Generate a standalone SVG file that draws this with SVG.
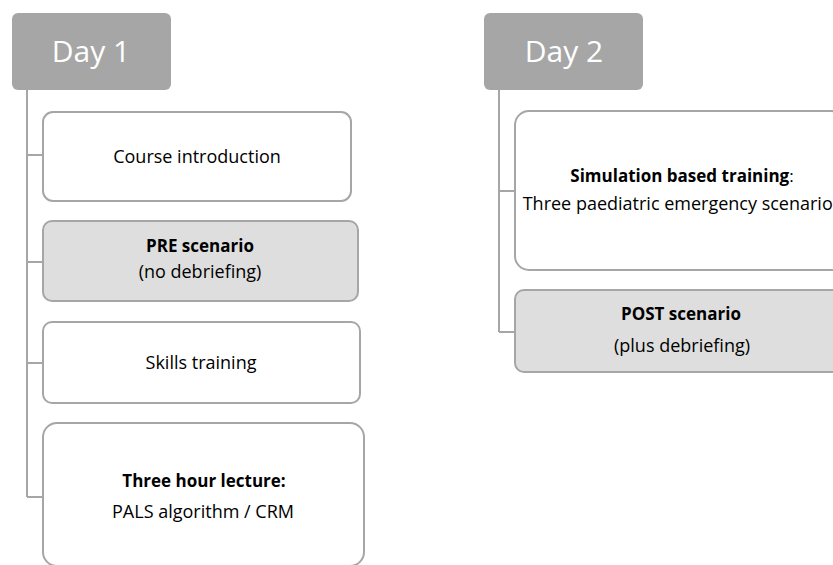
<svg xmlns="http://www.w3.org/2000/svg" width="833" height="565" viewBox="0 0 833 565">
  <style>
    .hdr { fill: #a6a6a6; }
    .box { fill: #ffffff; stroke: #a6a6a6; stroke-width: 2; }
    .box.grey { fill: #dedede; }
    .conn { fill: none; stroke: #a6a6a6; stroke-width: 2; }
    text { font-family: "Open Sans", "Liberation Sans", sans-serif; text-anchor: middle; fill: #000000; }
    .htxt { fill: #ffffff; font-size: 30px; }
    .t { font-size: 18px; }
    .b { font-weight: bold; font-size: 17px; }
  </style>
  <rect width="833" height="565" fill="#ffffff"/>

  <g id="connectors">
    <path class="conn" d="M27,90 V497 M27,155 H43 M27,262 H43 M27,363 H43 M27,497 H43"/>
    <path class="conn" d="M499,90 V332 M499,191 H515 M499,332 H515"/>
  </g>

  <g id="day1">
    <rect class="hdr" x="12" y="13" width="159" height="77" rx="6"/>
    <text class="htxt" x="91" y="62">Day 1</text>
  </g>

  <g id="course-intro">
    <rect class="box" x="43" y="112" width="308" height="89" rx="10"/>
    <text class="t" x="197" y="163">Course introduction</text>
  </g>

  <g id="pre-scenario">
    <rect class="box grey" x="43" y="221" width="315" height="80" rx="9"/>
    <text class="t b" x="200" y="252">PRE scenario</text>
    <text class="t" x="200" y="278">(no debriefing)</text>
  </g>

  <g id="skills">
    <rect class="box" x="43" y="322" width="317" height="81" rx="9"/>
    <text class="t" x="201" y="369">Skills training</text>
  </g>

  <g id="lecture">
    <rect class="box" x="43" y="423" width="321" height="143" rx="14"/>
    <text class="t b" x="204" y="487">Three hour lecture:</text>
    <text class="t" x="203" y="518">PALS algorithm / CRM</text>
  </g>

  <g id="day2">
    <rect class="hdr" x="484" y="13" width="159" height="77" rx="6"/>
    <text class="htxt" x="564" y="62">Day 2</text>
  </g>

  <g id="simulation">
    <rect class="box" x="515" y="111" width="330" height="159" rx="14"/>
    <text class="t" x="682" y="182"><tspan class="b">Simulation based training</tspan><tspan font-size="17">:</tspan></text>
    <text class="t" x="682" y="210">Three paediatric emergency scenarios</text>
  </g>

  <g id="post-scenario">
    <rect class="box grey" x="515" y="290" width="330" height="82" rx="9"/>
    <text class="t b" x="681" y="320">POST scenario</text>
    <text class="t" x="682" y="352">(plus debriefing)</text>
  </g>
</svg>
